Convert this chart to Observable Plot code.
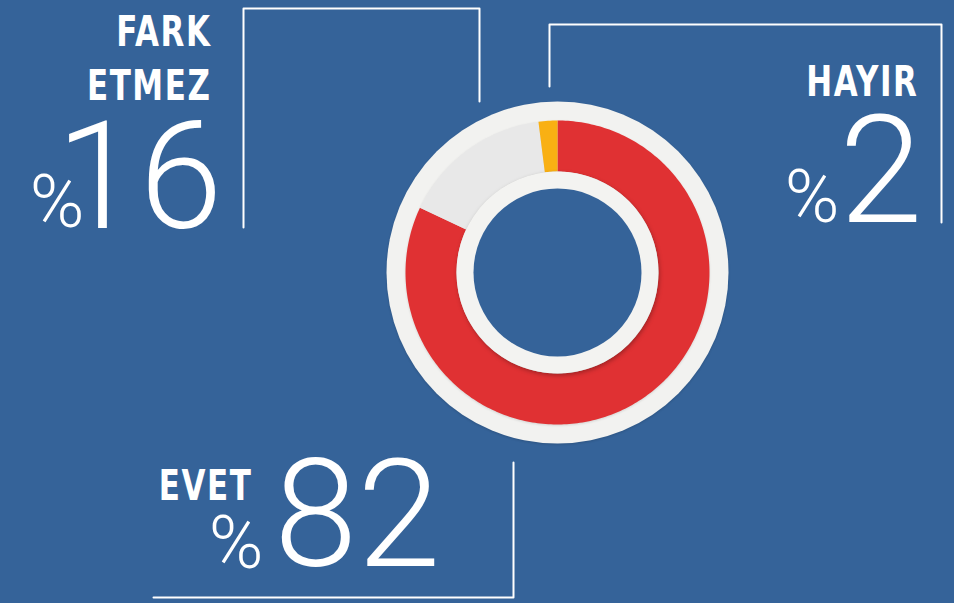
<!DOCTYPE html>
<html>
<head>
<meta charset="utf-8">
<script src="https://cdn.jsdelivr.net/npm/d3@7"></script>
<script src="https://cdn.jsdelivr.net/npm/@observablehq/plot@0.6"></script>
<style>
  html, body { margin: 0; padding: 0; background: #356399; }
  #chart svg { display: block; }
</style>
</head>
<body>
<div id="chart"></div>
<script>
// ---- data ----
const categories = ["EVET", "FARK ETMEZ", "HAYIR"];
const values = [82, 16, 2];
const colors = ["#e03133", "#e8e8e8", "#f9b013"];
const labelLines = [["EVET"], ["FARK", "ETMEZ"], ["HAYIR"]];
const valueLabels = ["82", "16", "2"];

// ---- layout (pixels) ----
const W = 954, H = 603;
const BG = "#356399";
const cx = 557, cy = 272;
const rOuterRing = 171, rBandOuter = 152, rBandInner = 101, rHole = 84;
const labelSqueeze = 0.8;

// sector polygons computed from the values
const total = d3.sum(values);
let acc = 0;
const sectors = [];
values.forEach((v, i) => {
  const a0 = acc / total * 2 * Math.PI;
  acc += v;
  const a1 = acc / total * 2 * Math.PI;
  const n = Math.max(4, Math.ceil((a1 - a0) / (Math.PI / 180)));
  for (let k = 0; k <= n; k++) {
    const a = a0 + (a1 - a0) * k / n;
    sectors.push({cat: categories[i], x: cx + rBandOuter * Math.sin(a), y: cy - rBandOuter * Math.cos(a)});
  }
  for (let k = n; k >= 0; k--) {
    const a = a0 + (a1 - a0) * k / n;
    sectors.push({cat: categories[i], x: cx + rBandInner * Math.sin(a), y: cy - rBandInner * Math.cos(a)});
  }
});

// annotation placement
const annot = {
  "FARK ETMEZ": {lx: 211, ly: 45, step: 54, px: 84, py: 226, nx: 222, ny: 227},
  "HAYIR": {lx: 918, ly: 95, step: 54, px: 839, py: 221, nx: 922, ny: 221},
  "EVET": {lx: 252, ly: 499, step: 54, px: 263, py: 567, nx: 440, ny: 565}
};
const leaders = [
  {cat: "FARK ETMEZ", pts: [[243, 227], [243, 8], [479, 8], [479, 101]]},
  {cat: "HAYIR", pts: [[549, 86], [549, 24], [941, 24], [941, 222]]},
  {cat: "EVET", pts: [[513, 462], [513, 597], [153, 597]]}
];
const leaderData = leaders.flatMap(l => l.pts.map(([x, y]) => ({cat: l.cat, x, y})));

const labelData = [];
const pctData = [];
const numData = [];
categories.forEach((c, i) => {
  const a = annot[c];
  labelLines[i].forEach((t, j) => labelData.push({text: t, x: a.lx, y: a.ly + j * a.step}));
  pctData.push({text: "%", x: a.px, y: a.py});
  numData.push({text: valueLabels[i], x: a.nx, y: a.ny});
});

const chart = Plot.plot({
  width: W,
  height: H,
  margin: 0,
  style: {background: BG},
  x: {domain: [0, W], range: [0, W], axis: null},
  y: {domain: [0, H], range: [0, H], axis: null},
  color: {domain: categories, range: colors},
  marks: [
    Plot.line(leaderData, {x: "x", y: "y", z: "cat", stroke: "white", strokeWidth: 2, curve: "linear"}),
    Plot.dot([{x: cx, y: cy}], {x: "x", y: "y", r: rOuterRing, fill: "#f2f2f0", stroke: "none",
      imageFilter: "drop-shadow(0px 1px 1px rgba(0,0,0,0.15))"}),
    Plot.line(sectors, {x: "x", y: "y", z: "cat", fill: "cat", stroke: "none", curve: "linear",
      imageFilter: "drop-shadow(0px 1px 1px rgba(0,0,0,0.12))"}),
    Plot.dot([{x: cx, y: cy}], {x: "x", y: "y", r: rBandInner, fill: "#f3f3f1", stroke: "none",
      imageFilter: "drop-shadow(1px 2px 2px rgba(0,0,0,0.28))"}),
    Plot.dot([{x: cx, y: cy}], {x: "x", y: "y", r: rHole, fill: BG, stroke: "none"}),
    Plot.text(labelData, {x: "x", y: "y", text: "text", textAnchor: "end", lineAnchor: "bottom",
      fill: "white", fontSize: 43, fontWeight: "bold",
      fontFamily: "'DejaVu Sans Condensed', 'Liberation Sans Narrow', sans-serif"}),
    Plot.text(pctData, {x: "x", y: "y", text: "text", textAnchor: "end", lineAnchor: "bottom",
      fill: "white", fontSize: 74, fontWeight: 300, fontFamily: "Roboto, Lato, 'Open Sans', sans-serif"}),
    Plot.text(numData, {x: "x", y: "y", text: "text", textAnchor: "end", lineAnchor: "bottom",
      fill: "white", fontSize: 150, fontWeight: 300, fontFamily: "Roboto, Lato, 'Open Sans', sans-serif"})
  ]
});
// condense the bold category labels horizontally (anchored at their right edge)
d3.select(chart).selectAll("g[font-weight='bold'] text").each(function () {
  const t = this.getAttribute("transform") || "";
  this.setAttribute("transform", t + ` scale(${labelSqueeze},1)`);
  this.style.letterSpacing = "2px";
});
document.getElementById("chart").appendChild(chart);
</script>
</body>
</html>
